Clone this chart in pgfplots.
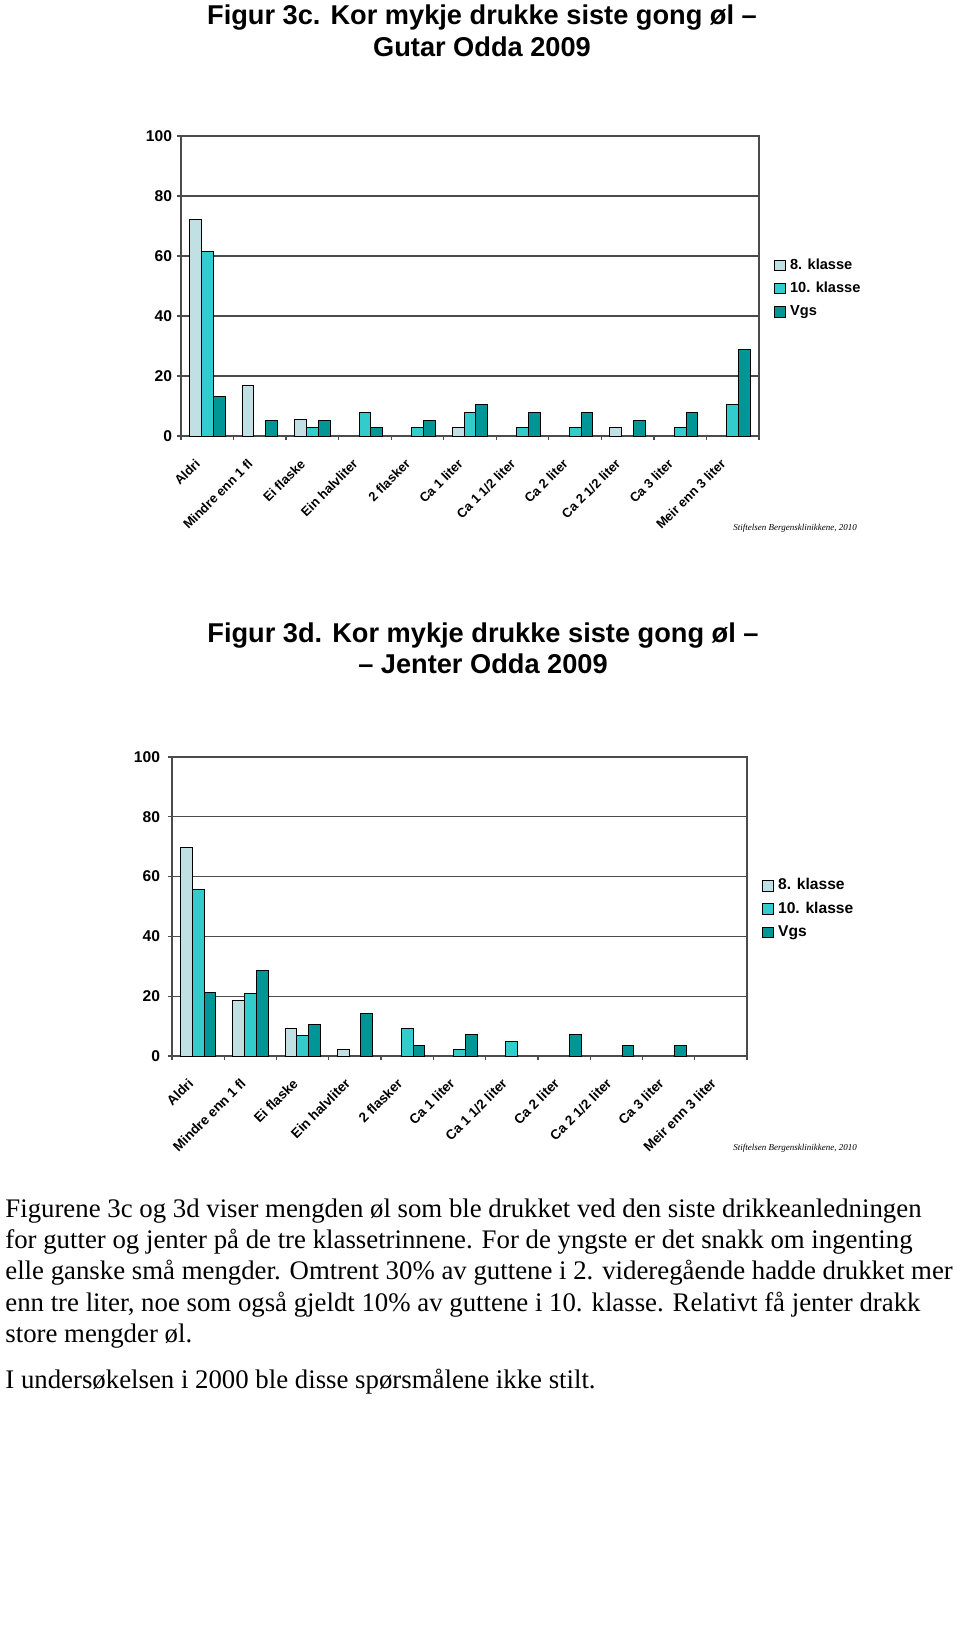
\documentclass[border=0pt]{standalone}
\usepackage{fontspec}
\setmainfont{Liberation Serif}
\newfontfamily\arial{Liberation Sans}
\usepackage{pgfplots}
\pgfplotsset{compat=1.18}
\definecolor{cA}{RGB}{192,224,228}
\definecolor{cB}{RGB}{51,204,204}
\definecolor{cC}{RGB}{0,150,150}
\definecolor{axgray}{RGB}{75,75,75}
\pgfplotsset{
  mybar/.style={
    ybar=0pt, bar width=0.225,
    scale only axis,
    xmin=-0.5, xmax=10.5, ymin=0, ymax=100,
    ytick={0,20,...,100},
    xtick={0,...,10},
    xticklabels={Aldri, Mindre enn 1 fl, Ei flaske, Ein halvliter, 2 flasker, Ca 1 liter, Ca 1 1/2 liter, Ca 2 liter, Ca 2 1/2 liter, Ca 3 liter, Meir enn 3 liter},
    minor xtick={-0.5,0.5,...,10.5},
    tick pos=left,
    tick align=outside,
    major tick length=2pt, minor tick length=2pt,
    major x tick style={draw=none},
    minor x tick style={draw=axgray, line width=0.6pt},
    major y tick style={draw=axgray, line width=0.6pt},
    ymajorgrids=true,
    major grid style={axgray, line width=0.6pt},
    axis line style={axgray, line width=0.8pt},
    /pgf/number format/assume math mode=true,
    legend cell align=left,
    legend image code/.code={\draw[#1, line width=0.45pt] (0pt,-2.6pt) rectangle (5.2pt,2.6pt);},
    legend style={at={(1,0.5)}, anchor=west, xshift=7.5pt, yshift=-1.3pt, draw=none, fill=none,
      inner sep=0pt, row sep=2.6pt,
      /tikz/every odd column/.append style={column sep=1.2pt},
      nodes={inner sep=1pt, text height=5.5pt, text depth=1.5pt}},
  },
  s1/.style={fill=cA, draw=black, line width=0.5pt},
  s2/.style={fill=cB, draw=black, line width=0.5pt},
  s3/.style={fill=cC, draw=black, line width=0.5pt},
}
\begin{document}
\begin{tikzpicture}
\useasboundingbox (0,0) rectangle (480pt,-821.5pt);

% Titles
\node[anchor=base, font=\arial\bfseries\fontsize{13.6}{16}\selectfont, inner sep=0pt] at (241pt,-12.5pt) {Figur 3c. Kor mykje drukke siste gong øl –};
\node[anchor=base, font=\arial\bfseries\fontsize{13.6}{16}\selectfont, inner sep=0pt] at (241pt,-28.5pt) {Gutar Odda 2009};

\begin{axis}[mybar, at={(90.5pt,-218pt)}, anchor=south west, width=289pt, height=150pt,
  yticklabel style={font=\arial\bfseries\fontsize{7.8}{8}\selectfont, xshift=1pt},
  xticklabel style={font=\arial\bfseries\fontsize{6.5}{7}\selectfont, rotate=45, anchor=north east, inner sep=0pt, xshift=-10.9pt, yshift=-1.7pt},
  legend style={font=\arial\bfseries\fontsize{7.3}{8}\selectfont}]
\addplot[s1] coordinates {(0,72.2) (1,16.7) (2,5.6) (5,2.8) (8,2.8)};
\addplot[s2] coordinates {(0,61.6) (2,2.7) (3,7.8) (4,2.7) (5,7.8) (6,2.7) (7,2.7) (9,2.7) (10,10.5)};
\addplot[s3] coordinates {(0,13.2) (1,5.3) (2,5.3) (3,2.7) (4,5.3) (5,10.5) (6,7.9) (7,7.9) (8,5.3) (9,7.9) (10,28.9)};
\legend{8. klasse, 10. klasse, Vgs}
\end{axis}
\node[anchor=base west, font=\itshape\fontsize{4.5}{5}\selectfont, inner sep=0pt] at (366.5pt,-265pt) {Stiftelsen Bergensklinikkene, 2010};

\node[anchor=base, font=\arial\bfseries\fontsize{13.6}{16}\selectfont, inner sep=0pt] at (241.5pt,-321pt) {Figur 3d. Kor mykje drukke siste gong øl –};
\node[anchor=base, font=\arial\bfseries\fontsize{13.6}{16}\selectfont, inner sep=0pt] at (241.5pt,-336.5pt) {– Jenter Odda 2009};

\begin{axis}[mybar, at={(86pt,-528pt)}, anchor=south west, width=287.5pt, height=149.5pt,
  yticklabel style={font=\arial\bfseries\fontsize{7.8}{8}\selectfont, xshift=-0.5pt},
  xticklabel style={font=\arial\bfseries\fontsize{6.8}{7}\selectfont, rotate=45, anchor=north east, inner sep=0pt, xshift=-9.9pt, yshift=-2.2pt},
  legend style={font=\arial\bfseries\fontsize{7.8}{8}\selectfont}]
\addplot[s1] coordinates {(0,69.8) (1,18.6) (2,9.3) (3,2.3)};
\addplot[s2] coordinates {(0,55.8) (1,20.9) (2,7.0) (4,9.3) (5,2.3) (6,4.7)};
\addplot[s3] coordinates {(0,21.4) (1,28.6) (2,10.7) (3,14.3) (4,3.6) (5,7.1) (7,7.1) (8,3.6) (9,3.6)};
\legend{8. klasse, 10. klasse, Vgs}
\end{axis}
\node[anchor=base west, font=\itshape\fontsize{4.5}{5}\selectfont, inner sep=0pt] at (366.5pt,-575pt) {Stiftelsen Bergensklinikkene, 2010};

% Body text
\begin{scope}[every node/.style={anchor=base west, inner sep=0pt, font=\fontsize{13.4}{15.7}\selectfont}]
\node at (2.5pt,-608.5pt) {Figurene 3c og 3d viser mengden øl som ble drukket ved den siste drikkeanledningen};
\node at (2.5pt,-624.2pt) {for gutter og jenter på de tre klassetrinnene. For de yngste er det snakk om ingenting};
\node at (2.5pt,-639.9pt) {elle ganske små mengder. Omtrent 30\% av guttene i 2. videregående hadde drukket mer};
\node at (2.5pt,-655.6pt) {enn tre liter, noe som også gjeldt 10\% av guttene i 10. klasse. Relativt få jenter drakk};
\node at (2.5pt,-671.3pt) {store mengder øl.};
\node at (2.5pt,-694pt) {I undersøkelsen i 2000 ble disse spørsmålene ikke stilt.};
\end{scope}
\end{tikzpicture}
\end{document}
